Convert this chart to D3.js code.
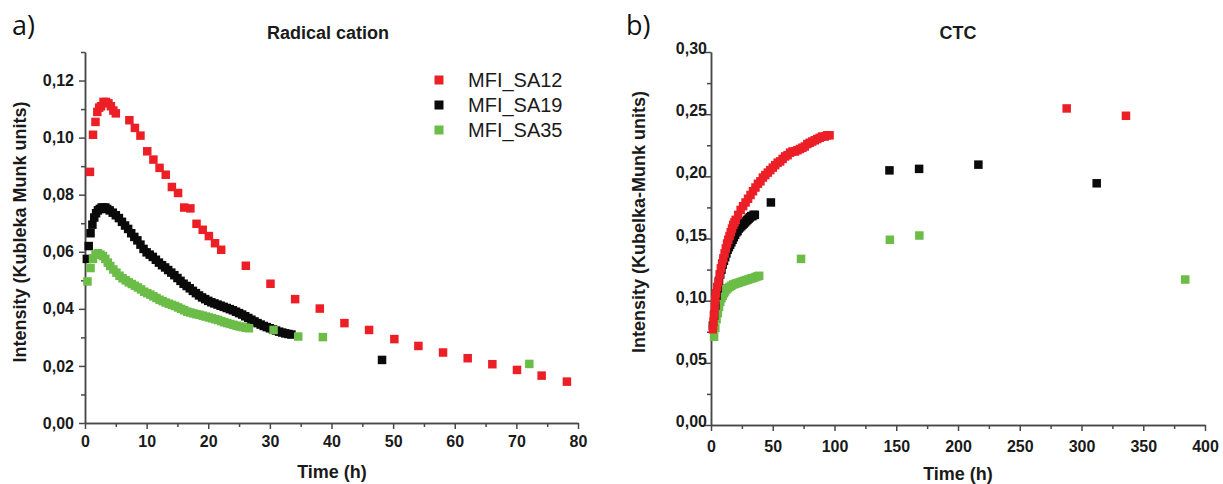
<!DOCTYPE html>
<html lang="en">
<head>
<meta charset="utf-8">
<script src="https://d3js.org/d3.v7.min.js"></script>
<style>
  html, body { margin: 0; padding: 0; background: #ffffff; }
  svg { display: block; }
  .axis path, .axis line { fill: none; stroke: #484848; stroke-width: 1.5px; }
  .axis text { font: bold 16px "Liberation Sans", Arial, sans-serif; fill: #1a1a1a; }
  .title { font: bold 18px "Liberation Sans", Arial, sans-serif; fill: #1a1a1a; text-anchor: middle; }
  .label { font: bold 18px "Liberation Sans", Arial, sans-serif; fill: #1a1a1a; text-anchor: middle; }
  .panel { font: 27px "Open Sans", "Liberation Sans", sans-serif; fill: #111; }
  .legend text { font: 20px "Liberation Sans", Arial, sans-serif; fill: #1a1a1a; }
</style>
</head>
<body>
<script>
// ---- data ----
var seriesNames = ["MFI_SA12", "MFI_SA19", "MFI_SA35"];
var seriesColors = ["#ec1f27", "#0a0a0a", "#6bbd48"];

// a) Radical cation
var radTimeSA12 = [0.8,1.3,1.7,2.0,2.3,2.6,3.0,3.4,3.8,4.2,4.6,5.0,7.2,8.1,9.0,10.1,11.1,12.1,13.1,14.1,15.1,16.1,17.1,18.1,19.1,20.1,21.1,22.1,26.1,30.1,34.1,38.1,42.1,46.1,50.2,54.1,58.1,62.1,66.1,70.1,74.1,78.2];
var radValSA12 = [0.088,0.101,0.1055,0.109,0.1105,0.111,0.1125,0.1125,0.112,0.111,0.1095,0.1085,0.1061,0.1034,0.1007,0.0952,0.0923,0.0894,0.087,0.0827,0.0806,0.0755,0.0752,0.0698,0.0677,0.0655,0.063,0.0607,0.0551,0.0488,0.0434,0.0401,0.035,0.0326,0.0294,0.027,0.0247,0.0227,0.0206,0.0186,0.0166,0.0145];

var radTimeSA19 = [0.3,0.6,0.9,1.2,1.5,1.8,2.1,2.4,2.7,3.0,3.3,3.6,4.0,4.5,5.0,5.5,6.0,6.5,7.0,7.5,8.0,8.5,9.0,9.5,10.0,10.5,11.0,11.5,12.0,12.5,13.0,13.5,14.0,14.5,15.0,15.5,16.0,16.5,17.0,17.5,18.0,18.5,19.0,19.5,20.0,20.5,21.0,21.5,22.0,22.5,23.0,23.5,24.0,24.5,25.0,25.5,26.0,26.5,27.0,27.5,28.0,28.5,29.0,29.5,30.0,30.5,31.0,31.5,32.0,32.5,33.0,33.5,48.2];
var radValSA19 = [0.0575,0.062,0.0665,0.0695,0.072,0.0735,0.0745,0.075,0.0755,0.0755,0.0755,0.075,0.0745,0.0737,0.0728,0.0718,0.0705,0.0692,0.068,0.0665,0.0652,0.064,0.0625,0.061,0.0598,0.059,0.0582,0.0572,0.0562,0.0553,0.0545,0.0536,0.0527,0.0518,0.0508,0.0498,0.0488,0.048,0.0472,0.0463,0.0455,0.0447,0.044,0.0434,0.0428,0.0423,0.0419,0.0415,0.0411,0.0407,0.0403,0.0399,0.0395,0.039,0.0385,0.038,0.0374,0.0368,0.0362,0.0356,0.035,0.0345,0.034,0.0336,0.0332,0.0328,0.0324,0.032,0.0317,0.0314,0.0312,0.031,0.0221];

var radTimeSA35 = [0.4,0.9,1.3,1.7,2.1,2.5,2.9,3.3,3.7,4.1,4.6,5.1,5.6,6.1,6.6,7.1,7.6,8.1,8.6,9.1,9.6,10.1,10.6,11.1,11.6,12.1,12.6,13.1,13.6,14.1,14.6,15.1,15.6,16.1,16.6,17.1,17.6,18.1,18.6,19.1,19.6,20.1,20.6,21.1,21.6,22.1,22.6,23.1,23.6,24.1,24.6,25.1,25.6,26.1,26.6,30.6,34.6,38.6,72.1];
var radValSA35 = [0.0496,0.0543,0.0575,0.059,0.0595,0.059,0.0585,0.0575,0.0562,0.055,0.0538,0.0527,0.0516,0.0507,0.05,0.0493,0.0487,0.0481,0.0475,0.0468,0.046,0.0455,0.045,0.0444,0.0438,0.0432,0.0427,0.0422,0.0418,0.0414,0.041,0.0405,0.04,0.0395,0.039,0.0387,0.0384,0.0381,0.0379,0.0376,0.0373,0.037,0.0367,0.0364,0.0361,0.0357,0.0353,0.035,0.0347,0.0344,0.0341,0.0338,0.0336,0.0334,0.0332,0.0326,0.0303,0.0301,0.0207];

// b) CTC
var ctcTimeSA12 = [1.5,2.0,2.5,3.0,3.5,4.0,5,6,7,8,9,10,11,12,13,14,15,16,17,18,19,20,22,24,26,28,30,32,34,36,38,40,42,44,46,48,50,52,54,56,58,60,62,64,66,68,70,72,74,76,78,80,82,84,86,88,90,92,94,96,288,336];
var ctcValSA12 = [0.077,0.083,0.089,0.095,0.101,0.106,0.111,0.115,0.121,0.126,0.130,0.134,0.138,0.142,0.146,0.149,0.152,0.155,0.158,0.161,0.163,0.165,0.169,0.173,0.176,0.179,0.182,0.185,0.188,0.191,0.194,0.196,0.199,0.201,0.203,0.205,0.207,0.209,0.211,0.212,0.214,0.216,0.217,0.219,0.220,0.220,0.221,0.222,0.223,0.224,0.226,0.227,0.228,0.229,0.230,0.231,0.232,0.232,0.233,0.233,0.2546,0.2487];

var ctcTimeSA19 = [1.5,2.5,3.5,4.5,5.5,6.5,7.5,8.5,9.5,10.5,11.5,12.5,13.5,14.5,15.5,16.5,17.5,18.5,19.5,20.5,21.5,22.5,23.5,24.5,25.5,26.5,27.5,28.5,29.5,30.5,31.5,32.5,33.5,34.5,35.5,48.5,144.5,168.5,216.5,312.3];
var ctcValSA19 = [0.08,0.088,0.096,0.104,0.11,0.116,0.121,0.125,0.129,0.132,0.135,0.138,0.141,0.143,0.145,0.147,0.149,0.151,0.153,0.155,0.156,0.158,0.159,0.160,0.161,0.162,0.163,0.164,0.165,0.166,0.167,0.168,0.168,0.169,0.169,0.179,0.2048,0.206,0.2094,0.1944];

var ctcTimeSA35 = [2.5,3.5,4.5,5.5,6.5,7.5,8.5,9.5,10.5,11.5,12.5,13.5,15,16.5,18,19.5,21,22.5,24,25.5,27,28.5,30,31.5,33,34.5,36,37.5,39,72.9,144.8,168.7,384];
var ctcValSA35 = [0.071,0.078,0.085,0.09,0.095,0.099,0.102,0.104,0.106,0.1075,0.109,0.110,0.111,0.112,0.113,0.1135,0.114,0.1145,0.115,0.1155,0.116,0.1165,0.117,0.1175,0.118,0.1183,0.119,0.1195,0.120,0.1336,0.149,0.1524,0.117];

// tick values
var radXTicks = [0,10,20,30,40,50,60,70,80];
var radYTicks = [0,0.02,0.04,0.06,0.08,0.10,0.12];
var ctcXTicks = [0,50,100,150,200,250,300,350,400];
var ctcYTicks = [0,0.05,0.10,0.15,0.20,0.25,0.30];

var width = 1223, height = 484;
var svg = d3.select("body").append("svg")
    .attr("width", width)
    .attr("height", height);

var comma = function(d) { return d3.format(".2f")(d).replace(".", ","); };

function zip(t, v) {
  return t.map(function(d, i) { return {t: d, v: v[i]}; });
}

// draw one panel
function createPanel(opt) {
  var x = d3.scaleLinear().domain(opt.xDomain).range(opt.xRange);
  var y = d3.scaleLinear().domain(opt.yDomain).range(opt.yRange);

  var g = svg.append("g");

  // minor ticks first
  g.append("g").attr("class", "axis")
      .attr("transform", "translate(0," + opt.yRange[0] + ")")
      .call(d3.axisBottom(x).tickValues(opt.xMinor).tickSize(4).tickSizeOuter(0).tickFormat(""));
  g.append("g").attr("class", "axis")
      .attr("transform", "translate(" + opt.xRange[0] + ",0)")
      .call(d3.axisLeft(y).tickValues(opt.yMinor).tickSize(4).tickSizeOuter(0).tickFormat(""));

  // major ticks
  var xAxis = g.append("g").attr("class", "axis")
      .attr("transform", "translate(0," + opt.yRange[0] + ")")
      .call(d3.axisBottom(x).tickValues(opt.xTicks).tickSize(6).tickSizeOuter(0).tickPadding(opt.xPad));
  var yAxis = g.append("g").attr("class", "axis")
      .attr("transform", "translate(" + opt.xRange[0] + ",0)")
      .call(d3.axisLeft(y).tickValues(opt.yTicks).tickSize(6).tickSizeOuter(0)
            .tickPadding(opt.yPad).tickFormat(comma));
  yAxis.selectAll("text").attr("dy", opt.yDy);

  // markers, drawn in layer order
  opt.order.forEach(function(k) {
    g.append("g").selectAll("rect")
        .data(zip(opt.times[k], opt.vals[k]))
        .enter().append("rect")
        .attr("x", function(d) { return x(d.t) - opt.ms / 2; })
        .attr("y", function(d) { return y(d.v) - opt.ms / 2; })
        .attr("width", opt.ms)
        .attr("height", opt.ms)
        .style("fill", seriesColors[k]);
  });

  // titles
  g.append("text").attr("class", "title")
      .attr("x", opt.titleX).attr("y", 39).text(opt.title);
  g.append("text").attr("class", "label")
      .attr("x", opt.xLabelX).attr("y", opt.xLabelY).text("Time (h)");
  g.append("text").attr("class", "label")
      .attr("transform", "translate(" + opt.yLabelX + "," + opt.yLabelY + ") rotate(-90)")
      .text(opt.yLabel);
  g.append("text").attr("class", "panel")
      .attr("x", opt.panelX).attr("y", 35).text(opt.panel);
}

createPanel({
  xDomain: [0, 80], xRange: [85, 578],
  yDomain: [0, 0.13], yRange: [423, 52],
  xTicks: radXTicks, yTicks: radYTicks,
  xMinor: [5,15,25,35,45,55,65,75],
  yMinor: [0.01,0.03,0.05,0.07,0.09,0.11,0.13],
  xPad: 7, yPad: 5, yDy: "0.32em",
  times: [radTimeSA12, radTimeSA19, radTimeSA35],
  vals: [radValSA12, radValSA19, radValSA35],
  order: [1, 2, 0], ms: 8.5,
  title: "Radical cation", titleX: 328,
  xLabelX: 332, xLabelY: 478,
  yLabel: "Intensity (Kubleka Munk units)", yLabelX: 26, yLabelY: 232,
  panel: "a)", panelX: 12
});

createPanel({
  xDomain: [0, 400], xRange: [711, 1205],
  yDomain: [0, 0.30], yRange: [425, 52],
  xTicks: ctcXTicks, yTicks: ctcYTicks,
  xMinor: [25,75,125,175,225,275,325,375],
  yMinor: [0.025,0.075,0.125,0.175,0.225,0.275],
  xPad: 10, yPad: -2, yDy: "0.1em",
  times: [ctcTimeSA12, ctcTimeSA19, ctcTimeSA35],
  vals: [ctcValSA12, ctcValSA19, ctcValSA35],
  order: [2, 1, 0], ms: 8.5,
  title: "CTC", titleX: 958,
  xLabelX: 958, xLabelY: 480,
  yLabel: "Intensity (Kubelka-Munk units)", yLabelX: 645, yLabelY: 222,
  panel: "b)", panelX: 626
});

// legend
var legend = svg.append("g").attr("class", "legend")
    .selectAll("g")
    .data(seriesNames)
    .enter().append("g")
    .attr("transform", function(d, i) { return "translate(439," + (80 + i * 25) + ")"; });
legend.append("rect")
    .attr("x", -4.5).attr("y", -4.5)
    .attr("width", 9).attr("height", 9)
    .style("fill", function(d, i) { return seriesColors[i]; });
legend.append("text")
    .attr("x", 29).attr("y", 7)
    .text(function(d) { return d; });
</script>
</body>
</html>
